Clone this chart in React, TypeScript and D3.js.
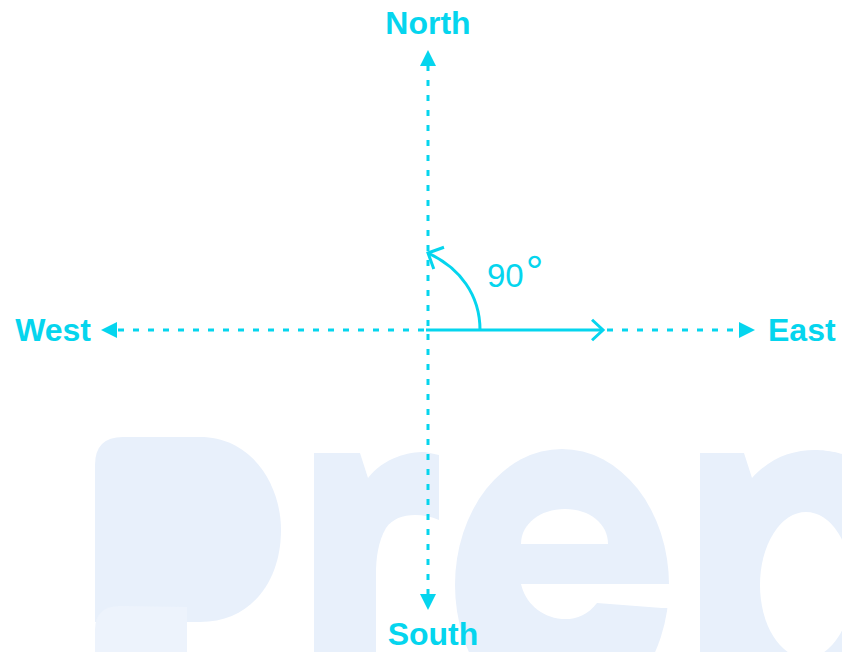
import React from "react";
import * as d3 from "d3";

// ---- data ----
const directions = ["North", "East", "South", "West"];
const dirX = [0, 1, 0, -1];
const dirY = [1, 0, -1, 0];
const angleLabel = ["90", "°"];
const watermark = ["P", "r", "e", "p"];

const W = 842;
const H = 652;
const CYAN = "#05d5ee";
const WM = "#e8f0fb";

const x = d3.scaleLinear().domain([-1, 1]).range([101, 755]);
const y = d3.scaleLinear().domain([-1, 1]).range([610, 50]);
const cx = x(0);
const cy = y(0);

function triangle(tx: number, ty: number, ux: number, uy: number, len = 16, hw = 8) {
  const bx = tx - ux * len;
  const by = ty - uy * len;
  const px = -uy, py = ux;
  const p = d3.path();
  p.moveTo(tx, ty);
  p.lineTo(bx + px * hw, by + py * hw);
  p.lineTo(bx - px * hw, by - py * hw);
  p.closePath();
  return p.toString();
}

function chevron(tx: number, ty: number, ang: number, len = 16, spread = 45) {
  const p = d3.path();
  const a1 = ((ang + 180 - spread) * Math.PI) / 180;
  const a2 = ((ang + 180 + spread) * Math.PI) / 180;
  p.moveTo(tx + Math.cos(a1) * len, ty + Math.sin(a1) * len);
  p.lineTo(tx, ty);
  p.lineTo(tx + Math.cos(a2) * len, ty + Math.sin(a2) * len);
  return p.toString();
}

export default function App() {
  const labelPos: Record<string, { x: number; y: number; anchor: string }> = {
    North: { x: cx, y: 34, anchor: "middle" },
    East: { x: 768, y: 341, anchor: "start" },
    South: { x: 433, y: 645, anchor: "middle" },
    West: { x: 91, y: 341, anchor: "end" },
  };

  // angle arc (from east line up to north)
  const arcStartX = cx + 52;
  const arc = d3.path();
  arc.moveTo(arcStartX, cy);
  arc.bezierCurveTo(arcStartX, cy - 35, cx + 32, cy - 62, cx, cy - 77);
  const arcEndAng = (Math.atan2(-15, -32) * 180) / Math.PI;

  const eastSolidEnd = 603;

  return (
    <svg
      width={W}
      height={H}
      style={{ position: "absolute", left: 0, top: 0, background: "#fff" }}
      fontFamily="'Liberation Sans', Arial, sans-serif"
    >
      {/* watermark "Prep" */}
      <g aria-label={watermark.join("")}>
        {/* P */}
        <path
          d="M95,465 Q95,437 123,437 L200,437 C252,437 281,485 281,530 C281,580 252,622 200,622 L95,622 Z"
          fill={WM}
        />
        <path d="M95,652 L95,630 Q95,606 120,606 L187,607 L187,652 Z" fill="#edf3fc" />
        {/* r */}
        <path
          d="M314,453 L360,453 L368,478 C385,457 408,452 425,452 L439,455 L439,520 C420,512 396,513 386,528 C378,542 376,558 376,575 L376,652 L314,652 Z"
          fill={WM}
        />
        {/* e */}
        <ellipse cx={562} cy={585} rx={107} ry={136} fill={WM} />
        <path d="M521,544 C521,524 540,509 565,509 C590,509 608,524 608,544 Z" fill="#fff" />
        <path d="M521,584 L680,584 L680,608 L662,608 L597,603 C588,615 575,620 562,619 C540,617 525,602 521,584 Z" fill="#fff" />
        {/* p */}
        <path
          d="M700,453 L744,453 L752,478 C770,458 792,450 815,450 C830,450 842,454 842,454 L842,652 L700,652 Z"
          fill={WM}
        />
        <ellipse cx={806} cy={585} rx={46} ry={73} fill="#fff" />
      </g>

      {/* dotted direction lines with arrowheads */}
      {directions.map((d, i) => {
        const tx = x(dirX[i]);
        const ty = y(dirY[i]);
        const ux = dirX[i];
        const uy = -dirY[i];
        const bx = tx - ux * 15;
        const by = ty - uy * 15;
        const sx = d === "East" ? eastSolidEnd : cx;
        const sy = cy;
        return (
          <g key={d}>
            <line
              x1={sx}
              y1={sy}
              x2={bx}
              y2={by}
              stroke={CYAN}
              strokeWidth={3}
              strokeDasharray="6 9"
              strokeDashoffset={-4}
            />
            <path d={triangle(tx, ty, ux, uy)} fill={CYAN} />
            <text
              x={labelPos[d].x}
              y={labelPos[d].y}
              textAnchor={labelPos[d].anchor as any}
              fontSize={32}
              fontWeight="bold"
              fill={CYAN}
            >
              {d}
            </text>
          </g>
        );
      })}

      {/* solid east vector */}
      <line x1={cx - 2} y1={cy} x2={eastSolidEnd} y2={cy} stroke={CYAN} strokeWidth={3} />
      <path d={chevron(eastSolidEnd, cy, 0, 15, 43)} fill="none" stroke={CYAN} strokeWidth={3} />

      {/* angle arc */}
      <path d={arc.toString()} fill="none" stroke={CYAN} strokeWidth={3} />
      <path d={chevron(cx, cy - 77, arcEndAng, 17, 45)} fill="none" stroke={CYAN} strokeWidth={3} />

      {/* angle label */}
      <text x={487} y={287} fontSize={33} fill={CYAN}>
        {angleLabel[0]}
        <tspan fontSize={44} dx={2}>
          {angleLabel[1]}
        </tspan>
      </text>
    </svg>
  );
}
